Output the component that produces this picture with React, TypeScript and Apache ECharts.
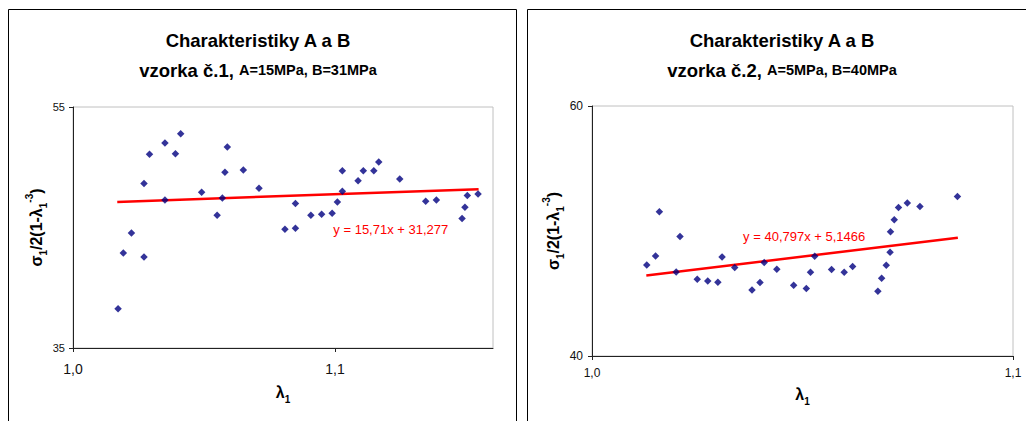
import React, { useEffect, useRef } from "react";
import * as echarts from "echarts";

const FONT = "'Liberation Sans', Arial, Helvetica, sans-serif";

// ---- Sample 1 (vzorka č.1) ----
const lambda1 = [
  1.0172, 1.0192, 1.0223, 1.0271, 1.0271, 1.0292, 1.0351, 1.0351, 1.0391, 1.0411,
  1.0491, 1.055, 1.057, 1.058, 1.0589, 1.065, 1.071, 1.0809, 1.0849, 1.0849,
  1.0908, 1.0949, 1.0989, 1.1009, 1.1028, 1.1028, 1.1088, 1.1108, 1.1148, 1.1167,
  1.1247, 1.1346, 1.1387, 1.1485, 1.1496, 1.1505, 1.1546,
];
const stress1 = [
  38.26, 42.88, 44.54, 42.55, 48.65, 51.08, 52.02, 47.29, 51.11, 52.77,
  47.93, 46.01, 47.45, 49.59, 51.69, 49.78, 48.26, 44.85, 44.93, 46.99,
  46.01, 46.1, 46.18, 47.12, 48.01, 49.7, 48.87, 49.7, 49.7, 50.44,
  49.03, 47.18, 47.29, 45.74, 46.68, 47.65, 47.78,
];
const trend1Lambda = [1.0169, 1.1548];
const trend1Stress = [47.12, 48.18];
const equation1 = "y = 15,71x + 31,277";
const equation1At = [1.1213, 44.85];
const xTicks1 = [1.0, 1.1];
const yTicks1 = [35, 55];
const title1 = "Charakteristiky A a B";
const sub1a = "vzorka č.1,";
const sub1b = "A=15MPa, B=31MPa";

// ---- Sample 2 (vzorka č.2) ----
const lambda2 = [
  1.013, 1.0151, 1.016, 1.02, 1.0209, 1.025, 1.0275, 1.0299, 1.0309, 1.0339,
  1.038, 1.0399, 1.0409, 1.0439, 1.0479, 1.0509, 1.0519, 1.0529, 1.0569, 1.0599,
  1.0619, 1.0679, 1.0688, 1.0699, 1.0708, 1.0709, 1.0718, 1.0728, 1.0749, 1.0779,
  1.0868,
];
const stress2 = [
  47.29, 48.01, 51.54, 46.73, 49.57, 46.15, 46.01, 45.91, 47.93, 47.08,
  45.29, 45.88, 47.48, 46.95, 45.67, 45.4, 46.71, 47.99, 46.92, 46.71,
  47.16, 45.18, 46.23, 47.27, 48.31, 49.94, 50.9, 51.89, 52.24, 51.97,
  52.77,
];
const trend2Lambda = [1.0129, 1.0869];
const trend2Stress = [46.44, 49.46];
const equation2 = "y = 40,797x + 5,1466";
const equation2At = [1.0504, 49.54];
const xTicks2 = [1.0, 1.1];
const yTicks2 = [40, 60];
const title2 = "Charakteristiky A a B";
const sub2a = "vzorka č.2,";
const sub2b = "A=5MPa, B=40MPa";

const xName = "{a|λ}{s|1}";
const yName = "{a|σ}{s|1}{a|/2(1-λ}{s|1}{p|-3}{a|)}";

const nameRich = {
  a: { fontSize: 16, fontWeight: "bold", fontFamily: FONT, color: "#000", lineHeight: 24, verticalAlign: "middle" },
  s: { fontSize: 10, fontWeight: "bold", fontFamily: FONT, color: "#000", lineHeight: 24, verticalAlign: "bottom" },
  p: { fontSize: 10, fontWeight: "bold", fontFamily: FONT, color: "#000", lineHeight: 24, verticalAlign: "top" },
};

const fmtX = (v: number) => v.toFixed(1).replace(".", ",");

function titleRich(big: number, small: number) {
  return {
    t: { fontSize: big, fontWeight: "bold", fontFamily: FONT, color: "#000", lineHeight: 30 },
    s: { fontSize: big, fontWeight: "bold", fontFamily: FONT, color: "#000", lineHeight: 30 },
    m: { fontSize: small, fontWeight: "bold", fontFamily: FONT, color: "#000", lineHeight: 30 },
  };
}

const axisLineStyle = { lineStyle: { color: "#222", width: 1 } };

export default function App() {
  const ref = useRef<HTMLDivElement>(null);
  useEffect(() => {
    if (!ref.current) return;
    const chart = echarts.init(ref.current, null, { renderer: "svg" });
    const pts1 = lambda1.map((x, i) => [x, stress1[i]]);
    const pts2 = lambda2.map((x, i) => [x, stress2[i]]);
    const tr1 = trend1Lambda.map((x, i) => [x, trend1Stress[i]]);
    const tr2 = trend2Lambda.map((x, i) => [x, trend2Stress[i]]);
    chart.setOption({
      animation: false,
      backgroundColor: "#fff",
      textStyle: { fontFamily: FONT },
      title: [
        {
          left: 258,
          top: 25,
          padding: 0,
          textAlign: "center",
          text: `{t|${title1}}\n{s|${sub1a} }{m|${sub1b}}`,
          textStyle: { rich: titleRich(18.5, 14.5) },
        },
        {
          left: 782,
          top: 25,
          padding: 0,
          textAlign: "center",
          text: `{t|${title2}}\n{s|${sub2a} }{m|${sub2b}}`,
          textStyle: { rich: titleRich(18.5, 14.5) },
        },
      ],
      graphic: [
        { type: "rect", shape: { x: 8.5, y: 9.5, width: 508, height: 420 }, style: { fill: "none", stroke: "#000", lineWidth: 1 }, z: 0 },
        { type: "rect", shape: { x: 527.5, y: 9.5, width: 510, height: 420 }, style: { fill: "none", stroke: "#000", lineWidth: 1 }, z: 0 },
      ],
      grid: [
        { left: 73, top: 107, width: 420, height: 241, show: true, borderColor: "#c0c0c0", borderWidth: 1, backgroundColor: "#fff" },
        { left: 592, top: 106, width: 421, height: 250, show: true, borderColor: "#c0c0c0", borderWidth: 1, backgroundColor: "#fff" },
      ],
      xAxis: [
        {
          gridIndex: 0, type: "value", min: 1.0, max: 1.1603,
          axisLine: axisLineStyle, splitLine: { show: false },
          axisTick: { show: true, length: 4, lineStyle: { color: "#222" }, customValues: xTicks1 },
          axisLabel: { customValues: xTicks1, formatter: fmtX, fontSize: 14, color: "#111", margin: 14, fontFamily: FONT },
          name: xName, nameLocation: "middle", nameGap: 32,
          nameTextStyle: { rich: nameRich },
        },
        {
          gridIndex: 1, type: "value", min: 1.0, max: 1.1,
          axisLine: axisLineStyle, splitLine: { show: false },
          axisTick: { show: true, length: 4, lineStyle: { color: "#222" }, customValues: xTicks2 },
          axisLabel: { customValues: xTicks2, formatter: fmtX, fontSize: 12, color: "#111", margin: 11, fontFamily: FONT },
          name: xName, nameLocation: "middle", nameGap: 26,
          nameTextStyle: { rich: nameRich },
        },
      ],
      yAxis: [
        {
          gridIndex: 0, type: "value", min: 35, max: 55,
          axisLine: { show: true, ...axisLineStyle }, splitLine: { show: false },
          axisTick: { show: true, length: 4, lineStyle: { color: "#222" }, customValues: yTicks1 },
          axisLabel: { customValues: yTicks1, fontSize: 11, color: "#111", margin: 8, fontFamily: FONT },
          name: yName, nameLocation: "middle", nameGap: 24,
          nameTextStyle: { rich: nameRich },
        },
        {
          gridIndex: 1, type: "value", min: 40, max: 60,
          axisLine: { show: true, ...axisLineStyle }, splitLine: { show: false },
          axisTick: { show: true, length: 4, lineStyle: { color: "#222" }, customValues: yTicks2 },
          axisLabel: { customValues: yTicks2, fontSize: 12, color: "#111", margin: 9, fontFamily: FONT },
          name: yName, nameLocation: "middle", nameGap: 23,
          nameTextStyle: { rich: nameRich },
        },
      ],
      series: [
        {
          type: "scatter", xAxisIndex: 0, yAxisIndex: 0, data: pts1,
          symbol: "diamond", symbolSize: 7.5, itemStyle: { color: "#000080" }, z: 3,
        },
        {
          type: "line", xAxisIndex: 0, yAxisIndex: 0, data: tr1, symbol: "none",
          lineStyle: { color: "#ff0000", width: 2.5 }, z: 2,
          markPoint: {
            symbol: "circle", symbolSize: 0,
            label: { show: true, position: "inside", formatter: equation1, color: "#ff0000", fontSize: 13, fontFamily: FONT },
            data: [{ coord: equation1At }],
          },
        },
        {
          type: "scatter", xAxisIndex: 1, yAxisIndex: 1, data: pts2,
          symbol: "diamond", symbolSize: 7.5, itemStyle: { color: "#000080" }, z: 3,
        },
        {
          type: "line", xAxisIndex: 1, yAxisIndex: 1, data: tr2, symbol: "none",
          lineStyle: { color: "#ff0000", width: 2.5 }, z: 2,
          markPoint: {
            symbol: "circle", symbolSize: 0,
            label: { show: true, position: "inside", formatter: equation2, color: "#ff0000", fontSize: 13, fontFamily: FONT },
            data: [{ coord: equation2At }],
          },
        },
      ],
    });
    return () => chart.dispose();
  }, []);
  return (
    <div
      ref={ref}
      style={{ position: "fixed", left: 0, top: 0, width: 1026, height: 421, background: "#fff" }}
    />
  );
}
